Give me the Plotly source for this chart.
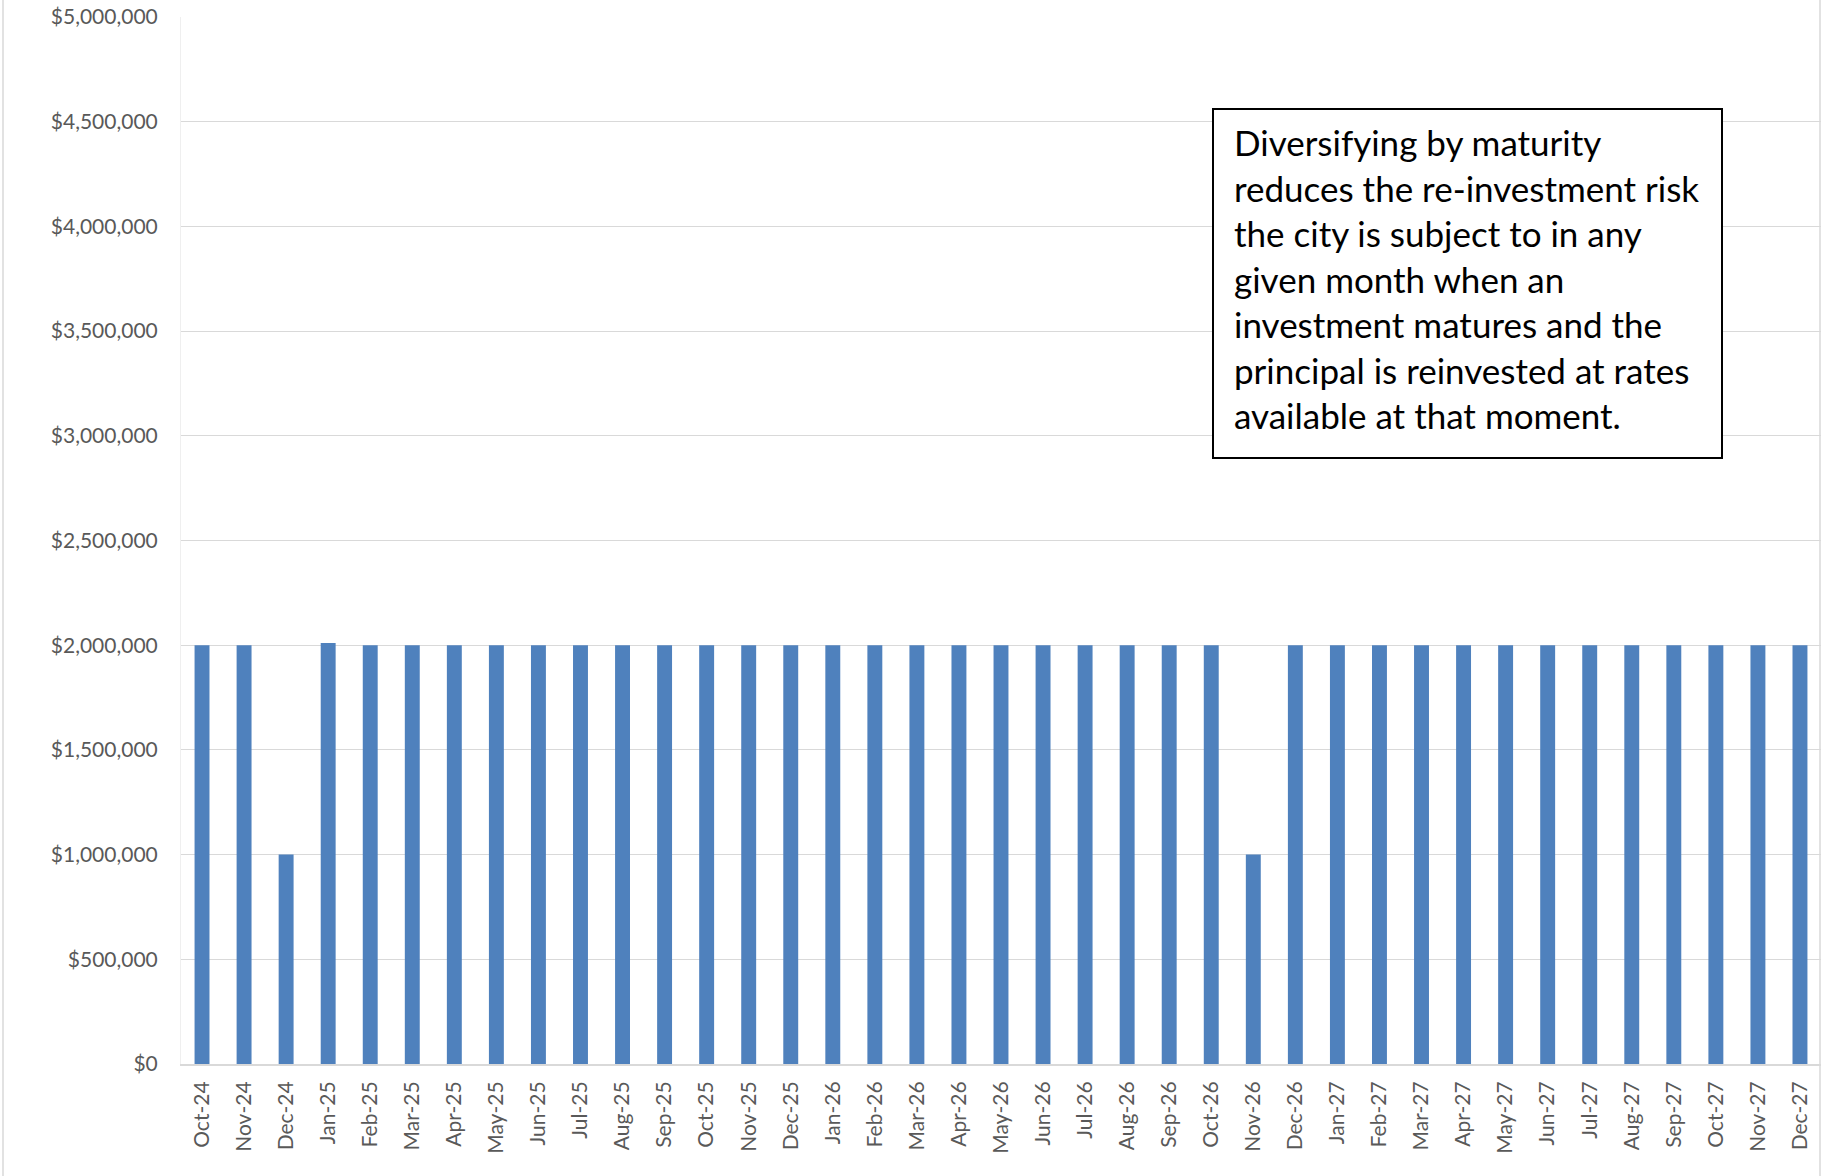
import plotly.graph_objects as go

months = ["Oct-24", "Nov-24", "Dec-24",
          "Jan-25", "Feb-25", "Mar-25", "Apr-25", "May-25", "Jun-25", "Jul-25", "Aug-25", "Sep-25", "Oct-25", "Nov-25", "Dec-25",
          "Jan-26", "Feb-26", "Mar-26", "Apr-26", "May-26", "Jun-26", "Jul-26", "Aug-26", "Sep-26", "Oct-26", "Nov-26", "Dec-26",
          "Jan-27", "Feb-27", "Mar-27", "Apr-27", "May-27", "Jun-27", "Jul-27", "Aug-27", "Sep-27", "Oct-27", "Nov-27", "Dec-27"]

maturities = [2000000, 2000000, 1000000,
              2010000, 2000000, 2000000, 2000000, 2000000, 2000000, 2000000, 2000000, 2000000, 2000000, 2000000, 2000000,
              2000000, 2000000, 2000000, 2000000, 2000000, 2000000, 2000000, 2000000, 2000000, 2000000, 1000000, 2000000,
              2000000, 2000000, 2000000, 2000000, 2000000, 2000000, 2000000, 2000000, 2000000, 2000000, 2000000, 2000000]

y_ticks = [0, 500000, 1000000, 1500000, 2000000, 2500000, 3000000, 3500000, 4000000, 4500000, 5000000]
y_tick_labels = ["$0", "$500,000", "$1,000,000", "$1,500,000", "$2,000,000", "$2,500,000",
                 "$3,000,000", "$3,500,000", "$4,000,000", "$4,500,000", "$5,000,000"]

note_lines = ["Diversifying by maturity",
              "reduces the re-investment risk",
              "the city is subject to in any",
              "given month when an",
              "investment matures and the",
              "principal is reinvested at rates",
              "available at that moment."]

W, H = 1822, 1176
L, R, T, B = 181, 1821, 17, 1064
pw, ph = R - L, B - T

def px(x):
    return (x - L) / pw

def py(y):
    return (B - y) / ph

fig = go.Figure()
fig.add_trace(go.Bar(x=months, y=maturities, marker=dict(color="#4f81bd", line=dict(width=0)),
                     hoverinfo="x+y"))

font_family = "Lato, 'Open Sans', sans-serif"

fig.update_layout(
    width=W, height=H,
    margin=dict(l=L, r=W - R, t=T, b=H - B, pad=0),
    paper_bgcolor="white", plot_bgcolor="white",
    bargap=0.645,
    showlegend=False,
    font=dict(family=font_family, size=21, color="#595959"),
)
fig.update_yaxes(range=[0, 5000000], tickmode="array", tickvals=y_ticks, ticktext=y_tick_labels,
                 showgrid=True, gridcolor="#d9d9d9", gridwidth=1.3, zeroline=False,
                 showline=True, linecolor="#efefef", linewidth=1,
                 ticks="", ticklabelstandoff=18,
                 tickfont=dict(family=font_family, size=21, color="#595959"))
fig.update_xaxes(type="category", tickangle=-90, showgrid=False,
                 showline=True, linecolor="#d9d9d9", linewidth=2,
                 ticks="", ticklabelstandoff=7,
                 tickfont=dict(family=font_family, size=21, color="#595959"))

# chart area border (left and right edges)
for xx in (3, 1820):
    fig.add_shape(type="line", xref="paper", yref="paper",
                  x0=px(xx), x1=px(xx), y0=py(H), y1=py(0),
                  line=dict(color="#d9d9d9", width=1.5))

# text box
fig.add_shape(type="rect", xref="paper", yref="paper",
              x0=px(1213), x1=px(1722), y0=py(458), y1=py(109),
              line=dict(color="#000000", width=2), fillcolor="white", layer="above")
for i, line in enumerate(note_lines):
    fig.add_annotation(xref="paper", yref="paper", x=px(1232), y=py(142 + 45.5 * i),
                       xanchor="left", yanchor="middle", showarrow=False, text=line,
                       font=dict(family=font_family, size=35, color="#000000"))

fig.write_html("out.html")
